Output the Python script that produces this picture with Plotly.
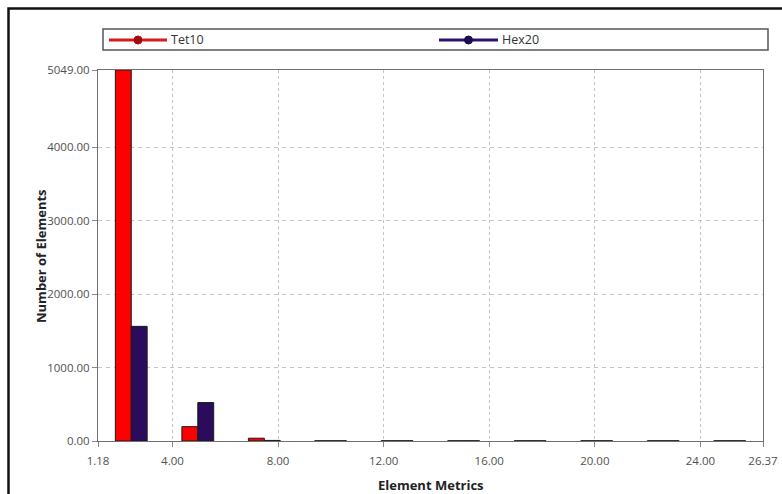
import plotly.graph_objects as go

# Data
bin_centers = [2.44, 4.96, 7.48, 9.99, 12.51, 15.03, 17.55, 20.07, 22.59, 25.11]
tet10_counts = [5049, 195, 38, 3, 3, 3, 3, 3, 3, 3]
hex20_counts = [1560, 523, 8, 3, 3, 3, 3, 3, 3, 3]
x_tickvals = [1.18, 4.0, 8.0, 12.0, 16.0, 20.0, 24.0, 26.37]
y_tickvals = [0, 1000, 2000, 3000, 4000, 5049]
series_names = ["Tet10", "Hex20"]

RED = "#FF0000"
PURPLE = "#2B0B5C"
FONT = "Open Sans"

fig = go.Figure()
fig.add_trace(go.Bar(x=bin_centers, y=tet10_counts, name=series_names[0], showlegend=False,
                     marker=dict(color=RED, line=dict(color="#1a1a1a", width=1))))
fig.add_trace(go.Bar(x=bin_centers, y=hex20_counts, name=series_names[1], showlegend=False,
                     marker=dict(color=PURPLE, line=dict(color="#1a1a1a", width=1))))

# body margin is removed via post_script, so figure coords == page coords
W, H = 782, 494
L, R, T, B = 98, 19, 70, 53
pw, ph = W - L - R, H - T - B

def px2paper_x(px):
    return (px - L) / pw

def px2paper_y(py):
    return (H - B - py) / ph

shapes = [
    # outer frame
    dict(type="rect", xref="paper", yref="paper",
         x0=px2paper_x(8.5), x1=px2paper_x(820), y0=px2paper_y(540), y1=px2paper_y(8.5),
         line=dict(color="#111111", width=2.5), fillcolor="rgba(0,0,0,0)", layer="above"),
    # legend box
    dict(type="rect", xref="paper", yref="paper",
         x0=px2paper_x(103), x1=px2paper_x(768), y0=px2paper_y(50), y1=px2paper_y(29),
         line=dict(color="#555555", width=1.5), fillcolor="rgba(0,0,0,0)", layer="below"),
]
annotations = [
    dict(text="<b>Number of Elements</b>", textangle=-90, xref="paper", yref="paper",
         x=px2paper_x(30), y=px2paper_y(256), showarrow=False,
         font=dict(family=FONT, size=13, color="#222222")),
    dict(text="<b>Element Metrics</b>", xref="paper", yref="paper",
         x=px2paper_x(431), y=px2paper_y(475), yanchor="top", showarrow=False,
         borderpad=0,
         font=dict(family=FONT, size=13, color="#222222")),
]

# manual legend (line + marker symbols)
legend_items = [(series_names[0], "#D81A1F", "#A00D10", 109, 167),
                (series_names[1], "#2E1470", "#1E0C50", 439, 498)]
ly = 40
for name, lc, mc, x0, x1 in legend_items:
    shapes.append(dict(type="line", xref="paper", yref="paper",
                       x0=px2paper_x(x0), x1=px2paper_x(x1),
                       y0=px2paper_y(ly), y1=px2paper_y(ly),
                       line=dict(color=lc, width=3)))
    cx = (x0 + x1) / 2
    r = 4
    shapes.append(dict(type="circle", xref="paper", yref="paper",
                       x0=px2paper_x(cx - r), x1=px2paper_x(cx + r),
                       y0=px2paper_y(ly + r), y1=px2paper_y(ly - r),
                       fillcolor=mc, line=dict(color=mc, width=1)))
    annotations.append(dict(text=name, xref="paper", yref="paper",
                            x=px2paper_x(x1 + 2), y=px2paper_y(ly),
                            xanchor="left", yanchor="middle", showarrow=False,
                            font=dict(family=FONT, size=12.5, color="#333333")))

fig.update_layout(
    width=W, height=H,
    margin=dict(l=L, r=R, t=T, b=B, autoexpand=False),
    paper_bgcolor="white", plot_bgcolor="white",
    barmode="group", bargap=0.52, bargroupgap=0,
    font=dict(family=FONT, size=11, color="#555555"),
    showlegend=False,
    xaxis=dict(range=[1.18, 26.37], tickvals=x_tickvals,
               ticktext=[f"{v:.2f}" for v in x_tickvals],
               showgrid=True, gridcolor="#C4C4C4", griddash="3px,3px", gridwidth=1,
               showline=True, linecolor="#707070", linewidth=1, mirror=True,
               ticks="outside", ticklen=5, tickcolor="#888888", ticklabelstandoff=4,
               zeroline=False, tickfont=dict(size=11.5, color="#505050")),
    yaxis=dict(range=[0, 5049], tickvals=y_tickvals,
               ticktext=[f"{v:.2f}" for v in y_tickvals],
               showgrid=True, gridcolor="#C4C4C4", griddash="4px,4px", gridwidth=1,
               showline=True, linecolor="#707070", linewidth=1, mirror=True,
               ticks="outside", ticklen=5, tickcolor="#888888",
               zeroline=False, tickfont=dict(size=11.5, color="#505050")),
    shapes=shapes,
    annotations=annotations,
)

post_js = ("document.body.style.margin='0';"
           "document.body.style.overflow='hidden';"
           "document.documentElement.style.overflow='hidden';")
fig.write_html("out.html", post_script=post_js, config={"displayModeBar": False})
